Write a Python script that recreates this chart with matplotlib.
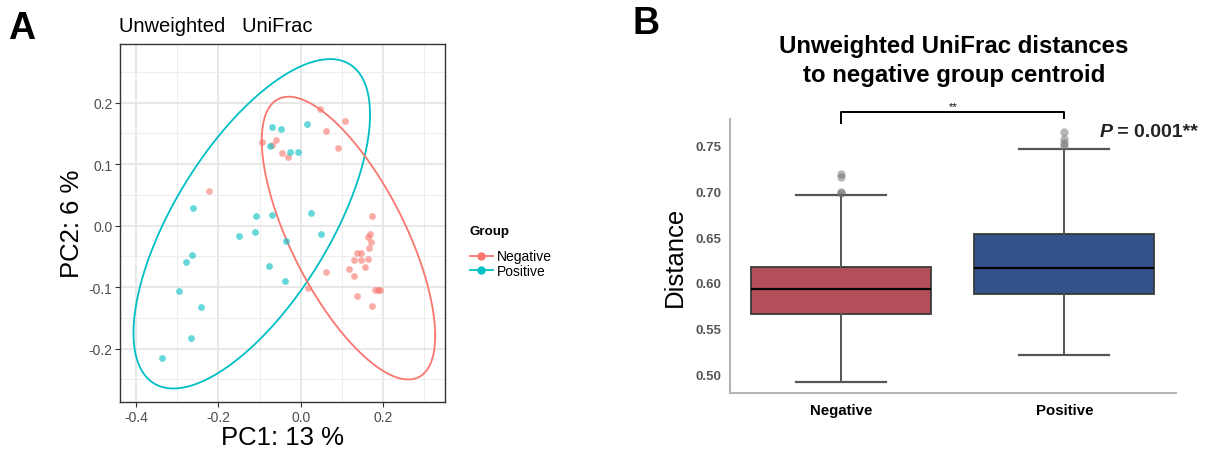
import numpy as np
import matplotlib
matplotlib.use("Agg")
import matplotlib.pyplot as plt
from matplotlib.lines import Line2D

plt.rcParams['font.family'] = ['Liberation Sans', 'DejaVu Sans']

# ---- panel A data (PCoA)
neg_pc1 = [0.047, 0.108, 0.061, 0.091, -0.095, -0.069, -0.061, -0.046, -0.032, -0.222,
           0.172, 0.168, 0.164, 0.171, 0.166, 0.136, 0.146, 0.130, 0.146, 0.163,
           0.118, 0.155, 0.130, 0.062, 0.017, 0.136, 0.181, 0.188, 0.191, 0.172]
neg_pc2 = [0.190, 0.171, 0.154, 0.126, 0.136, 0.131, 0.140, 0.118, 0.111, 0.056,
           0.016, -0.013, -0.018, -0.026, -0.036, -0.044, -0.044, -0.056, -0.056, -0.055,
           -0.071, -0.068, -0.082, -0.076, -0.102, -0.114, -0.104, -0.104, -0.104, -0.131]
pos_pc1 = [-0.070, -0.049, 0.015, -0.074, -0.026, -0.008, -0.261, -0.109, -0.070, 0.024,
           -0.151, -0.112, -0.036, 0.049, -0.265, -0.278, -0.078, -0.038, -0.296, -0.242,
           -0.266, -0.337]
pos_pc2 = [0.161, 0.157, 0.165, 0.130, 0.120, 0.120, 0.029, 0.016, 0.018, 0.020,
           -0.017, -0.011, -0.025, -0.013, -0.048, -0.060, -0.066, -0.090, -0.107, -0.133,
           -0.183, -0.215]

# ellipse: centre, half extents, correlation
neg_ell_center = (0.1157, -0.0203)
neg_ell_half = (0.2104, 0.2301)
neg_ell_rho = -0.69
pos_ell_center = (-0.119, 0.003)
pos_ell_half = (0.287, 0.268)
pos_ell_rho = 0.663

# ---- panel B data (boxplot stats)
groups = ["Negative", "Positive"]
q1 = [0.566, 0.588]
med = [0.593, 0.616]
q3 = [0.6176, 0.6534]
whislo = [0.4918, 0.5213]
whishi = [0.6961, 0.7464]
fliers = [[0.698, 0.699, 0.716, 0.719], [0.750, 0.753, 0.757, 0.765]]

RED = "#F8766D"
CYAN = "#00BFC4"


def ellipse_xy(center, half, rho):
    t = np.linspace(0, 2 * np.pi, 300)
    phi = np.arccos(rho)
    return center[0] + half[0] * np.cos(t), center[1] + half[1] * np.cos(t - phi)


fig = plt.figure(figsize=(12.09, 4.52), dpi=100)

# ================= panel A
axA = fig.add_axes([0.0993, 0.1084, 0.2688, 0.7920])
axA.set_xlim(-0.4386, 0.350)
axA.set_ylim(-0.287, 0.2955)
axA.set_xticks([-0.4, -0.2, 0.0, 0.2])
axA.set_xticklabels(["-0.4", "-0.2", "0.0", "0.2"])
axA.set_yticks([-0.2, -0.1, 0.0, 0.1, 0.2])
axA.set_yticklabels(["-0.2", "-0.1", "0.0", "0.1", "0.2"])
axA.set_xticks([-0.3, -0.1, 0.1, 0.3], minor=True)
axA.set_yticks([-0.25, -0.15, -0.05, 0.05, 0.15, 0.25], minor=True)
axA.grid(which="major", color="#E6E6E6", lw=1.3)
axA.grid(which="minor", color="#EEEEEE", lw=0.8)
axA.set_axisbelow(True)
axA.tick_params(which="minor", length=0)
axA.tick_params(which="major", length=3.5, width=0.8, color="#333333",
                labelcolor="#4D4D4D", labelsize=10, pad=2)
for s in axA.spines.values():
    s.set_color("#333333")
    s.set_linewidth(1.0)

axA.scatter(neg_pc1, neg_pc2, s=24, color=RED, alpha=0.6, lw=0, zorder=3)
axA.scatter(pos_pc1, pos_pc2, s=24, color=CYAN, alpha=0.6, lw=0, zorder=3)
ex, ey = ellipse_xy(pos_ell_center, pos_ell_half, pos_ell_rho)
axA.plot(ex, ey, color=CYAN, lw=1.3, zorder=2)
ex, ey = ellipse_xy(neg_ell_center, neg_ell_half, neg_ell_rho)
axA.plot(ex, ey, color=RED, lw=1.3, zorder=2)

axA.set_xlabel("PC1: 13 %", fontsize=18.5, labelpad=1)
axA.set_ylabel("PC2: 6 %", fontsize=18.5, labelpad=3)
fig.text(119 / 1209, 1 - 26 / 452, "Unweighted   UniFrac", fontsize=14.5,
         ha="left", va="center")
fig.text(8 / 1209, 1 - 29 / 452, "A", fontsize=27, fontweight="bold",
         ha="left", va="center")

# legend
fig.text(469 / 1209, 1 - 232 / 452, "Group", fontsize=9.6, fontweight="bold",
         ha="left", va="center")
handles = [Line2D([], [], color=RED, marker="o", ms=5, lw=1.3),
           Line2D([], [], color=CYAN, marker="o", ms=5, lw=1.3)]
fig.legend(handles, groups, loc="upper left",
           bbox_to_anchor=(470 / 1209, 1 - 250.5 / 452), frameon=False,
           fontsize=10, borderpad=0, borderaxespad=0,
           handlelength=1.65, handletextpad=0.3, labelspacing=0.0)

# ================= panel B
axB = fig.add_axes([0.6038, 0.1283, 0.3689, 0.6062])
stats = []
for i, g in enumerate(groups):
    stats.append({"label": g, "q1": q1[i], "med": med[i], "q3": q3[i],
                  "whislo": whislo[i], "whishi": whishi[i], "fliers": fliers[i]})
bp = axB.bxp(stats, positions=[0, 1], widths=0.806, patch_artist=True,
             showfliers=True,
             boxprops=dict(edgecolor="#3A3A3A", linewidth=1.3),
             medianprops=dict(color="black", linewidth=1.6),
             whiskerprops=dict(color="#555555", linewidth=1.4),
             capprops=dict(color="#555555", linewidth=1.6),
             capwidths=0.403,
             flierprops=dict(marker="o", markerfacecolor="#6E6E6E",
                             markeredgecolor="none", markersize=6, alpha=0.5))
for patch, c in zip(bp["boxes"], ["#B44E58", "#34528A"]):
    patch.set_facecolor(c)

axB.set_xlim(-0.497, 1.5)
axB.set_ylim(0.4794, 0.7792)
axB.set_yticks([0.50, 0.55, 0.60, 0.65, 0.70, 0.75])
axB.set_yticklabels(["0.50", "0.55", "0.60", "0.65", "0.70", "0.75"])
axB.tick_params(axis="y", length=0, labelsize=9.5, labelcolor="#555555", pad=6)
axB.tick_params(axis="x", length=0, labelsize=10.8, pad=7)
for lab in axB.get_yticklabels():
    lab.set_fontweight("bold")
for lab in axB.get_xticklabels():
    lab.set_fontweight("bold")
for side in ["top", "right"]:
    axB.spines[side].set_visible(False)
for side in ["left", "bottom"]:
    axB.spines[side].set_color("#B5B5B5")
    axB.spines[side].set_linewidth(1.5)
axB.set_ylabel("Distance", fontsize=18.5, labelpad=6)

# significance bracket
axB.plot([0, 0, 1, 1], [0.7745, 0.7865, 0.7865, 0.7800], color="black",
         lw=1.4, clip_on=False)
axB.text(0.5, 0.7938, "**", ha="center", va="center", fontsize=8, clip_on=False)
tP = axB.text(1.157, 0.7655, "P", fontsize=14, fontweight="bold",
              style="italic", ha="left", va="center", color="#222222")
axB.annotate(" = 0.001**", xy=(1, 0.5), xycoords=tP, ha="left", va="center",
             fontsize=14, fontweight="bold", color="#222222")

fig.text(954 / 1209, 1 - 61 / 452,
         "Unweighted UniFrac distances\nto negative group centroid",
         ha="center", va="center", fontsize=17.3, fontweight="bold",
         linespacing=1.3)
fig.text(632 / 1209, 1 - 24 / 452, "B", fontsize=27, fontweight="bold",
         ha="left", va="center")

fig.savefig("out.png", dpi=100)
